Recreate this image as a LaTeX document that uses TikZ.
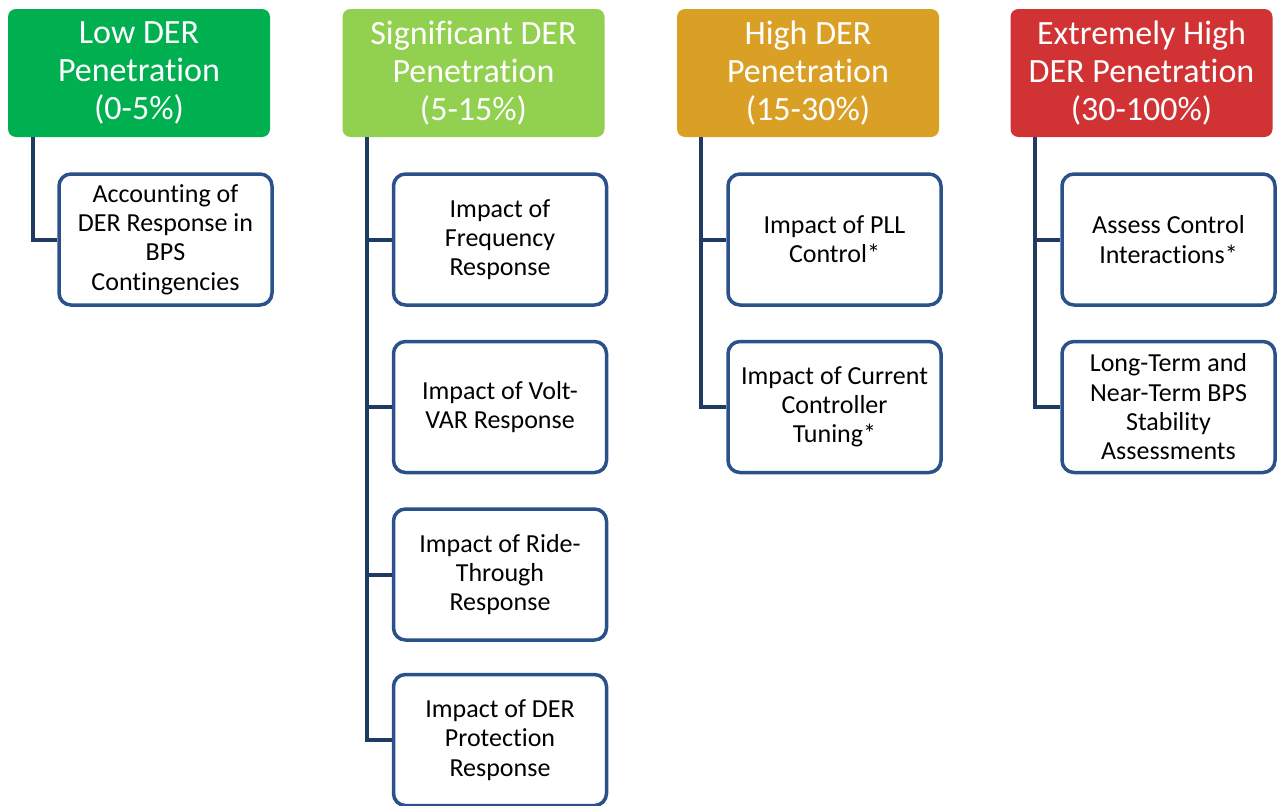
\documentclass[tikz,border=0pt]{standalone}
\usepackage{fontspec}
\setmainfont[Ligatures={NoCommon,NoRare,NoContextual}]{Carlito}
\begin{document}
\definecolor{lowgreen}{HTML}{00B050}
\definecolor{siggreen}{HTML}{92D050}
\definecolor{highorange}{HTML}{DAA026}
\definecolor{extred}{HTML}{D13233}
\definecolor{boxblue}{HTML}{2A5189}
\definecolor{linkblue}{HTML}{1F3A63}
\begin{tikzpicture}[x=1pt,y=-1pt,
  header/.style={rectangle, rounded corners=8pt, minimum width=262pt, minimum height=128pt,
    text=white, align=center, inner sep=0pt,
    font=\fontsize{34}{38}\selectfont},
  item/.style={rectangle, rounded corners=12pt, draw=boxblue, line width=3.5pt, fill=white,
    minimum width=213pt, minimum height=131pt, align=center, inner sep=0pt, text=black,
    font=\fontsize{26}{29.3}\selectfont},
  link/.style={draw=linkblue, line width=4pt}]
\useasboundingbox (0,0) rectangle (1278,806);

% Penetration level headers
\node[header, fill=lowgreen]   (h1) at (139,73)    {Low DER\\Penetration\\(0-5\%)};
\node[header, fill=siggreen]   (h2) at (473.5,73)  {Significant DER\\Penetration\\(5-15\%)};
\node[header, fill=highorange] (h3) at (808,73)    {High DER\\Penetration\\(15-30\%)};
\node[header, fill=extred]     (h4) at (1141.5,73) {Extremely High\\DER Penetration\\(30-100\%)};

% Study items under each level
\node[item] (c11) at (165.5,239.5) {Accounting of\\DER Response in\\BPS\\Contingencies};

\node[item] (c21) at (500,239.5) {Impact of\\Frequency\\Response};
\node[item] (c22) at (500,407)   {Impact of Volt-\\VAR Response};
\node[item] (c23) at (500,574.5) {Impact of Ride-\\Through\\Response};
\node[item] (c24) at (500,740)   {Impact of DER\\Protection\\Response};

\node[item] (c31) at (834.5,239.5) {Impact of PLL\\Control*};
\node[item] (c32) at (834.5,407)   {Impact of Current\\Controller\\Tuning*};

\node[item] (c41) at (1168.5,239.5) {Assess Control\\Interactions*};
\node[item] (c42) at (1168.5,407)   {Long-Term and\\Near-Term BPS\\Stability\\Assessments};

% Tree connectors from each header down to its items
\coordinate (t1) at (33,137);
\coordinate (t2) at (367,137);
\coordinate (t3) at (700.5,137);
\coordinate (t4) at (1035,137);

\draw[link] (t1) |- (c11.west);
\draw[link] (t2) |- (c21.west);
\draw[link] (t2) |- (c22.west);
\draw[link] (t2) |- (c23.west);
\draw[link] (t2) |- (c24.west);
\draw[link] (t3) |- (c31.west);
\draw[link] (t3) |- (c32.west);
\draw[link] (t4) |- (c41.west);
\draw[link] (t4) |- (c42.west);
\end{tikzpicture}
\end{document}
